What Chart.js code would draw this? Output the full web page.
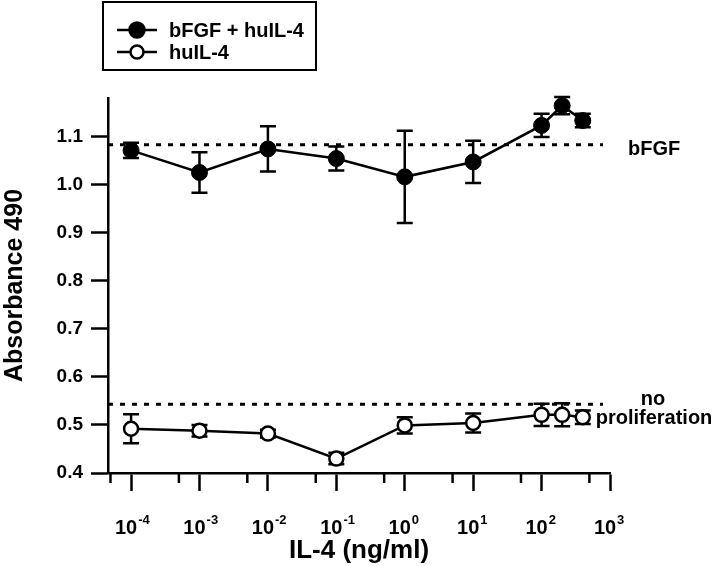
<!DOCTYPE html>
<html><head><meta charset="utf-8">
<style>html,body{margin:0;padding:0;background:#fff}</style>
<script src="https://cdn.jsdelivr.net/npm/chart.js@4.4.1/dist/chart.umd.min.js"></script>
</head><body>
<canvas id="c" width="720" height="566"></canvas>
<script>
// ---- data ----
const doses = [1e-4, 1e-3, 1e-2, 1e-1, 1, 10, 100, 200, 400];
const bfgfMean = [1.071, 1.025, 1.074, 1.054, 1.016, 1.047, 1.123, 1.164, 1.133];
const bfgfErr  = [0.016, 0.042, 0.047, 0.025, 0.096, 0.044, 0.024, 0.018, 0.014];
const il4Mean  = [0.492, 0.488, 0.482, 0.430, 0.499, 0.504, 0.521, 0.521, 0.516];
const il4Err   = [0.030, 0.012, 0.008, 0.012, 0.017, 0.020, 0.023, 0.024, 0.014];
const seriesLabels = ['bFGF + huIL-4', 'huIL-4'];
const bfgfLevel = 1.083;
const noProlifLevel = 0.543;
const refSpan = [4.6e-5, 790];
const refLabels = ['bFGF', 'no', 'proliferation'];
const xTickValues = [1e-4, 1e-3, 1e-2, 1e-1, 1, 10, 100, 1000];
const xTickBase = '10';
const xTickExponents = ['-4', '-3', '-2', '-1', '0', '1', '2', '3'];
const xMinorTicks = [5e-5, 5e-4, 5e-3, 5e-2, 5e-1, 5, 50, 500];
const yTickValues = [0.4, 0.5, 0.6, 0.7, 0.8, 0.9, 1.0, 1.1];
const xTitle = 'IL-4 (ng/ml)';
const yTitle = 'Absorbance 490';

const FONT = "'Liberation Sans', Arial, Helvetica, sans-serif";
const errMap = {0: bfgfErr, 1: il4Err};
const X_TICK_LEN = 18, X_TICK_PAD = 25, X_LABEL_SHIFT = -5;

const errorBars = {
  id: 'errorBars',
  beforeDatasetsDraw(chart) {
    const ctx = chart.ctx, x = chart.scales.x, y = chart.scales.y;
    ctx.save();
    ctx.strokeStyle = '#000';
    ctx.lineWidth = 2.5;
    Object.keys(errMap).forEach(k => {
      const ds = chart.data.datasets[k];
      const errs = errMap[k];
      ds.data.forEach((p, i) => {
        const px = x.getPixelForValue(p.x);
        const top = y.getPixelForValue(p.y + errs[i]);
        const bot = y.getPixelForValue(p.y - errs[i]);
        ctx.beginPath();
        ctx.moveTo(px, top); ctx.lineTo(px, bot);
        ctx.moveTo(px - 8, top); ctx.lineTo(px + 8, top);
        ctx.moveTo(px - 8, bot); ctx.lineTo(px + 8, bot);
        ctx.stroke();
      });
    });
    ctx.restore();
  }
};

const extras = {
  id: 'extras',
  afterDraw(chart) {
    const ctx = chart.ctx, x = chart.scales.x, y = chart.scales.y;
    const ca = chart.chartArea;
    ctx.save();
    // minor ticks
    ctx.strokeStyle = '#000';
    ctx.lineWidth = 2.5;
    xMinorTicks.forEach(v => {
      const px = x.getPixelForValue(v);
      ctx.beginPath(); ctx.moveTo(px, ca.bottom); ctx.lineTo(px, ca.bottom + 10); ctx.stroke();
    });
    // exponents of x tick labels
    ctx.fillStyle = '#000';
    ctx.font = 'bold 20px ' + FONT;
    const baseW = ctx.measureText(xTickBase).width;
    ctx.font = 'bold 13px ' + FONT;
    ctx.textAlign = 'left';
    ctx.textBaseline = 'top';
    const labelTop = ca.bottom + X_TICK_LEN + X_TICK_PAD;
    xTickValues.forEach((v, i) => {
      const px = x.getPixelForValue(v) + X_LABEL_SHIFT + baseW / 2 + 1;
      ctx.fillText(xTickExponents[i], px, labelTop - 2);
    });
    // reference labels
    ctx.font = 'bold 20px ' + FONT;
    ctx.textBaseline = 'alphabetic';
    ctx.textAlign = 'left';
    ctx.fillText(refLabels[0], ca.right + 18, y.getPixelForValue(bfgfLevel) + 10);
    ctx.textAlign = 'center';
    const ny = y.getPixelForValue(noProlifLevel);
    ctx.fillText(refLabels[1], ca.right + 43, ny + 1);
    ctx.fillText(refLabels[2], ca.right + 44, ny + 20);
    // legend
    ctx.lineWidth = 2;
    ctx.strokeRect(103, 2, 213, 68);
    const rows = [30, 52];
    rows.forEach((ry, i) => {
      const ds = chart.data.datasets[i];
      ctx.lineWidth = 2.5;
      ctx.beginPath(); ctx.moveTo(117, ry); ctx.lineTo(157, ry); ctx.stroke();
      ctx.beginPath(); ctx.arc(137, ry, i === 0 ? 7.5 : 6.5, 0, Math.PI * 2);
      ctx.fillStyle = ds.pointBackgroundColor; ctx.fill(); ctx.stroke();
      ctx.fillStyle = '#000';
      ctx.textAlign = 'left';
      ctx.textBaseline = 'middle';
      ctx.font = 'bold 20px ' + FONT;
      ctx.fillText(ds.label, 169, ry + 1);
    });
    ctx.restore();
  }
};

new Chart(document.getElementById('c'), {
  type: 'line',
  data: {
    datasets: [
      {
        label: seriesLabels[0],
        data: doses.map((d, i) => ({x: d, y: bfgfMean[i]})),
        borderColor: '#000', borderWidth: 2.5,
        pointBackgroundColor: '#000', pointBorderColor: '#000', pointBorderWidth: 1,
        pointRadius: 8, tension: 0, clip: false
      },
      {
        label: seriesLabels[1],
        data: doses.map((d, i) => ({x: d, y: il4Mean[i]})),
        borderColor: '#000', borderWidth: 2.5,
        pointBackgroundColor: '#fff', pointBorderColor: '#000', pointBorderWidth: 2.5,
        pointRadius: 7, tension: 0, clip: false
      },
      {
        label: 'bFGF level',
        data: refSpan.map(v => ({x: v, y: bfgfLevel})),
        borderColor: '#000', borderWidth: 3, borderDash: [5, 7],
        pointRadius: 0, order: 5
      },
      {
        label: 'no proliferation level',
        data: refSpan.map(v => ({x: v, y: noProlifLevel})),
        borderColor: '#000', borderWidth: 3, borderDash: [5, 7],
        pointRadius: 0, order: 5
      }
    ]
  },
  options: {
    responsive: false,
    animation: false,
    devicePixelRatio: 1,
    layout: {padding: {left: 0, right: 110, top: 98, bottom: 0}},
    plugins: {legend: {display: false}, tooltip: {enabled: false}},
    scales: {
      x: {
        type: 'logarithmic',
        min: 4.6e-5, max: 1000,
        afterBuildTicks: s => { s.ticks = xTickValues.map(v => ({value: v})); },
        afterFit: s => { s.height = 93; },
        border: {display: true, color: '#000', width: 2.5},
        grid: {drawOnChartArea: false, drawTicks: true, tickLength: X_TICK_LEN, tickColor: '#000', tickWidth: 2.5},
        ticks: {
          autoSkip: false, maxRotation: 0, minRotation: 0, padding: X_TICK_PAD,
          labelOffset: X_LABEL_SHIFT,
          color: '#000', font: {family: FONT, size: 20, weight: 'bold'},
          callback: () => xTickBase
        },
        title: {display: true, text: xTitle, color: '#000', padding: 0,
                font: {family: FONT, size: 26, weight: 'bold'}}
      },
      y: {
        type: 'linear',
        min: 0.4, max: 1.18,
        afterBuildTicks: s => { s.ticks = yTickValues.map(v => ({value: v})); },
        afterFit: s => { s.width = 108; },
        border: {display: true, color: '#000', width: 2.5},
        grid: {drawOnChartArea: false, drawTicks: true, tickLength: 17, tickColor: '#000', tickWidth: 2.5},
        ticks: {
          padding: 8, color: '#000', font: {family: FONT, size: 19, weight: 'bold'},
          callback: v => Number(v).toFixed(1)
        },
        title: {display: true, text: yTitle, color: '#000', padding: 0,
                font: {family: FONT, size: 25, weight: 'bold'}}
      }
    }
  },
  plugins: [errorBars, extras]
});
</script>
</body></html>
